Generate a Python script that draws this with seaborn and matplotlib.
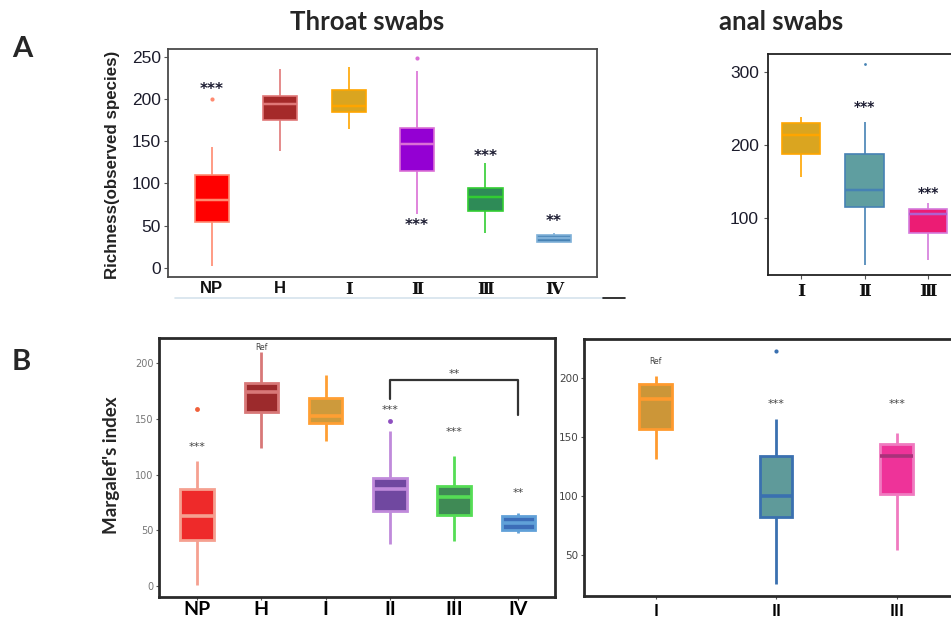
import matplotlib
matplotlib.use("Agg")
import matplotlib.pyplot as plt
from matplotlib.lines import Line2D
from matplotlib.transforms import offset_copy
import seaborn as sns
import pandas as pd

# ---------------- data ----------------
# Panel A, throat swabs: richness (observed species)
throat_cats = ["NP", "H", "I", "II", "III", "IV"]
throat_ticklabels = ["NP", "H", "Ⅰ", "Ⅱ", "Ⅲ", "Ⅳ"]
throat_low = [2, 138, 164, 64, 41, 31]
throat_q1 = [55, 175, 184, 115, 67, 31]
throat_med = [81, 194, 192, 147, 84, 35]
throat_q3 = [110, 203, 211, 165, 95, 39]
throat_high = [143, 235, 238, 233, 124, 41]
throat_out_cat = ["NP", "II"]
throat_out_val = [200, 248]
throat_star_cat = ["NP", "II", "III", "IV"]
throat_star_txt = ["***", "***", "***", "**"]
throat_star_val = [215, 54, 135, 58]

# Panel A, anal swabs: richness
anal_cats = ["I", "II", "III"]
anal_ticklabels = ["Ⅰ", "Ⅱ", "Ⅲ"]
anal_low = [156, 36, 43]
anal_q1 = [188, 115, 80]
anal_med = [214, 139, 105]
anal_q3 = [230, 188, 113]
anal_high = [239, 232, 121]
anal_out_cat = ["II"]
anal_out_val = [311]
anal_star_cat = ["II", "III"]
anal_star_txt = ["***", "***"]
anal_star_val = [256, 138]

# Panel B, throat swabs: Margalef's index
marg_t_cats = ["NP", "H", "I", "II", "III", "IV"]
marg_t_ticklabels = ["NP", "H", "I", "II", "III", "IV"]
marg_t_low = [1, 124, 130, 38, 40, 48]
marg_t_q1 = [41, 156, 146, 67, 64, 50]
marg_t_med = [63, 174, 153, 87, 80, 57]
marg_t_q3 = [87, 182, 169, 97, 90, 63]
marg_t_high = [112, 210, 190, 139, 117, 66]
marg_t_out_cat = ["NP", "II"]
marg_t_out_val = [159, 148]
marg_t_star_cat = ["NP", "H", "II", "III", "IV"]
marg_t_star_txt = ["***", "Ref", "***", "***", "**"]
marg_t_star_val = [127, 216, 160, 140, 85]
bracket_cats = ["II", "IV"]
bracket_top = 185
bracket_ends = [168, 154]
bracket_txt = "**"

# Panel B, anal swabs: Margalef's index
marg_a_cats = ["I", "II", "III"]
marg_a_ticklabels = ["I", "II", "III"]
marg_a_low = [131, 25, 54]
marg_a_q1 = [157, 82, 102]
marg_a_med = [182, 100, 134]
marg_a_q3 = [195, 134, 144]
marg_a_high = [202, 165, 153]
marg_a_out_cat = ["II"]
marg_a_out_val = [223]
marg_a_star_cat = ["I", "II", "III"]
marg_a_star_txt = ["Ref", "***", "***"]
marg_a_star_val = [216, 180, 180]

# ---------------- styles ----------------
A_fill = ["#FF0000", "#A52A2A", "#DAA520", "#9400D3", "#2E8B57", "#4682B4"]
A_edge = ["#FF8A70", "#E07878", "#FFA500", "#DA70D6", "#32CD32", "#7FB0D8"]
A_med = A_edge
AR_fill = ["#DAA520", "#5F9EA0", "#EC1C74"]
AR_edge = ["#FFA500", "#4682B4", "#D47ADC"]
AR_med = ["#FFA500", "#4682B4", "#B060D0"]
B_fill = ["#EE2A2A", "#9C2A2C", "#CD9A3C", "#7048A0", "#3F8A55", "#3C6DB8"]
B_edge = ["#F5A090", "#D87878", "#FF9F33", "#C08ADB", "#55DD55", "#60A0D8"]
B_med = B_edge
BR_fill = ["#CC9638", "#5F9A9A", "#EE3399"]
BR_edge = ["#FF9A2E", "#3A70B0", "#F07AC0"]
BR_med = ["#FF9A2E", "#3A70B0", "#A8327A"]

sns.set_theme(style="white")
plt.rcParams["font.family"] = ["DejaVu Sans"]

W, H = 951, 619
fig = plt.figure(figsize=(W / 100, H / 100), dpi=100)


def px_axes(x0, y0, x1, y1):
    return fig.add_axes([x0 / W, 1 - y1 / H, (x1 - x0) / W, (y1 - y0) / H])


def draw_boxes(ax, cats, low, q1, med, q3, high, fills, edges, meds, width, lw):
    for i, c in enumerate(cats):
        df = pd.DataFrame({"cat": [c] * 5,
                           "val": [low[i], q1[i], med[i], q3[i], high[i]]})
        sns.boxplot(data=df, x="cat", y="val", order=cats, color=fills[i],
                    linecolor=edges[i], saturation=1, width=width,
                    linewidth=lw, showcaps=False, fliersize=0,
                    medianprops=dict(color=meds[i], linewidth=lw + 0.6),
                    ax=ax)


def draw_outliers(ax, cats, out_cat, out_val, colors, size):
    for c, v in zip(out_cat, out_val):
        sns.stripplot(x=[c], y=[v], order=cats, jitter=False,
                      color=colors[cats.index(c)], size=size, ax=ax,
                      linewidth=0)


def style_axes(ax, spine_color, spine_lw):
    for s in ax.spines.values():
        s.set_color(spine_color)
        s.set_linewidth(spine_lw)
    ax.set_xlabel("")
    ax.set_ylabel("")
    ax.tick_params(axis="both", which="both", direction="out", length=3,
                   width=0.8, color="#555555", bottom=True, left=True)


ROMAN_FONT = ["DejaVu Serif", "DejaVu Sans"]

# ---------------- Panel A left ----------------
axA = px_axes(168, 49, 597, 277)
draw_boxes(axA, throat_cats, throat_low, throat_q1, throat_med, throat_q3,
           throat_high, A_fill, A_edge, A_med, 0.5, 1.2)
draw_outliers(axA, throat_cats, throat_out_cat, throat_out_val, A_edge, 3)
trA = offset_copy(axA.transData, fig=fig, y=-3, units="dots")
for c, t, v in zip(throat_star_cat, throat_star_txt, throat_star_val):
    axA.text(throat_cats.index(c), v, t, ha="center", va="center",
             fontsize=11, fontweight="bold", color="#1a1a30", transform=trA)
axA.set_xlim(-0.64, 5.63)
axA.set_ylim(-10.6, 259)
axA.set_yticks([0, 50, 100, 150, 200, 250])
axA.set_yticklabels([0, 50, 100, 150, 200, 250], fontsize=12.5,
                    color="#1c1c2c", family=["Liberation Sans", "DejaVu Sans"])
axA.set_xticks(range(len(throat_cats)))
axA.set_xticklabels(throat_ticklabels, fontsize=12, fontweight="bold",
                    color="#111111")
for lab in axA.get_xticklabels():
    if lab.get_text() in ("NP", "H"):
        lab.set_family(["Liberation Sans", "DejaVu Sans"])
    else:
        lab.set_family(ROMAN_FONT)
style_axes(axA, "#4a4a4a", 1.3)
axA.tick_params(axis="x", length=0, pad=3)
axA.tick_params(axis="y", pad=2)

# ---------------- Panel A right ----------------
axAR = px_axes(768, 54, 975, 275)
draw_boxes(axAR, anal_cats, anal_low, anal_q1, anal_med, anal_q3, anal_high,
           AR_fill, AR_edge, AR_med, 0.6, 1.2)
draw_outliers(axAR, anal_cats, anal_out_cat, anal_out_val, AR_edge, 2)
trAR = offset_copy(axAR.transData, fig=fig, y=-3, units="dots")
for c, t, v in zip(anal_star_cat, anal_star_txt, anal_star_val):
    axAR.text(anal_cats.index(c), v, t, ha="center", va="center",
              fontsize=10, fontweight="bold", color="#1a1a30", transform=trAR)
axAR.set_xlim(-0.52, 2.74)
axAR.set_ylim(22, 325)
axAR.set_yticks([100, 200, 300])
axAR.set_yticklabels([100, 200, 300], fontsize=12.5, color="#1c1c2c",
                     family=["Liberation Sans", "DejaVu Sans"])
axAR.set_xticks(range(len(anal_cats)))
axAR.set_xticklabels(anal_ticklabels, fontsize=12.5, fontweight="bold",
                     color="#111111", family=ROMAN_FONT)
style_axes(axAR, "#222222", 1.3)
axAR.tick_params(axis="x", length=3, pad=3)

# ---------------- Panel B left ----------------
axB = px_axes(159, 338, 555, 597)
draw_boxes(axB, marg_t_cats, marg_t_low, marg_t_q1, marg_t_med, marg_t_q3,
           marg_t_high, B_fill, B_edge, B_med, 0.52, 2.0)
draw_outliers(axB, marg_t_cats, marg_t_out_cat, marg_t_out_val,
              ["#F0603A", "#A52A2A", "#CD9A3C", "#8E4FC0", "#3F8A55", "#3C6DB8"], 3.5)
trB = offset_copy(axB.transData, fig=fig, y=-2, units="dots")
for c, t, v in zip(marg_t_star_cat, marg_t_star_txt, marg_t_star_val):
    axB.text(marg_t_cats.index(c), v, t, ha="center", va="center",
             fontsize=8 if t != "Ref" else 5.5, color="#444444", transform=trB)
bx0, bx1 = marg_t_cats.index(bracket_cats[0]), marg_t_cats.index(bracket_cats[1])
axB.plot([bx0, bx0, bx1, bx1],
         [bracket_ends[0], bracket_top, bracket_top, bracket_ends[1]],
         color="#333333", lw=1.6)
axB.text((bx0 + bx1) / 2, bracket_top + 7, bracket_txt, ha="center",
         va="center", fontsize=8, color="#444444", transform=trB)
axB.set_xlim(-0.59, 5.57)
axB.set_ylim(-9.9, 222.8)
axB.set_yticks([0, 50, 100, 150, 200])
axB.set_yticklabels([0, 50, 100, 150, 200], fontsize=7, color="#777777")
axB.set_xticks(range(len(marg_t_cats)))
axB.set_xticklabels(marg_t_ticklabels, fontsize=14, fontweight="bold",
                    color="#000000", family=["Lato", "DejaVu Sans"])
style_axes(axB, "#2a2a2a", 2.0)
axB.tick_params(axis="x", length=2, pad=1)
axB.tick_params(axis="y", length=2, pad=2)

# ---------------- Panel B right ----------------
axBR = px_axes(584, 339, 975, 596)
draw_boxes(axBR, marg_a_cats, marg_a_low, marg_a_q1, marg_a_med, marg_a_q3,
           marg_a_high, BR_fill, BR_edge, BR_med, 0.27, 2.0)
draw_outliers(axBR, marg_a_cats, marg_a_out_cat, marg_a_out_val, BR_edge, 3)
trBR = offset_copy(axBR.transData, fig=fig, y=-2, units="dots")
for c, t, v in zip(marg_a_star_cat, marg_a_star_txt, marg_a_star_val):
    axBR.text(marg_a_cats.index(c), v, t, ha="center", va="center",
              fontsize=8 if t != "Ref" else 5.5, color="#444444", transform=trBR)
axBR.set_xlim(-0.595, 2.65)
axBR.set_ylim(15.2, 233)
axBR.set_yticks([50, 100, 150, 200])
axBR.set_yticklabels([50, 100, 150, 200], fontsize=7.5, color="#444444")
axBR.set_xticks(range(len(marg_a_cats)))
axBR.set_xticklabels(marg_a_ticklabels, fontsize=12, fontweight="bold",
                     color="#000000", family=["Lato", "DejaVu Sans"])
style_axes(axBR, "#2a2a2a", 2.0)
axBR.tick_params(axis="x", length=2, pad=3)
axBR.tick_params(axis="y", length=2, pad=2)

# ---------------- figure texts ----------------
fig.text(367 / W, 1 - 22 / H, "Throat swabs", ha="center", va="center",
         fontsize=18.5, fontweight="bold", family=["Lato", "DejaVu Sans"])
fig.text(781 / W, 1 - 22 / H, "anal swabs", ha="center", va="center",
         fontsize=18.5, fontweight="bold", family=["Lato", "DejaVu Sans"])
fig.text(22 / W, 1 - 49 / H, "A", ha="center", va="center",
         fontsize=21, fontweight="bold", family=["Lato", "DejaVu Sans"])
fig.text(21 / W, 1 - 362 / H, "B", ha="center", va="center",
         fontsize=21, fontweight="bold", family=["Lato", "DejaVu Sans"])
fig.text(112 / W, 1 - 165 / H, "Richness(observed species)", ha="center",
         va="center", rotation=90, fontsize=12.2, fontweight="bold",
         color="#222222", family=["Liberation Sans", "DejaVu Sans"])
fig.text(112 / W, 1 - 465 / H, "Margalef's index", ha="center", va="center",
         rotation=90, fontsize=13.5, fontweight="bold",
         family=["Lato", "DejaVu Sans"])

# decorative rules under panel A left
fig.add_artist(Line2D([175 / W, 603 / W], [1 - 298 / H, 1 - 298 / H],
                      color="#D5E3EC", lw=1.2))
fig.add_artist(Line2D([603 / W, 625 / W], [1 - 298 / H, 1 - 298 / H],
                      color="#111111", lw=1.2))

fig.savefig("out.png", dpi=100)
